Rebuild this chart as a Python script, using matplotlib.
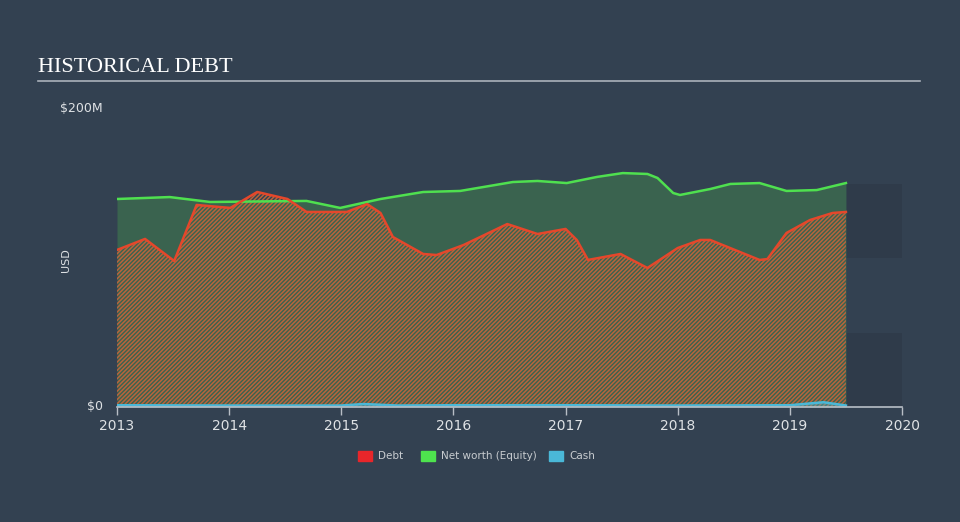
import numpy as np
import matplotlib.pyplot as plt

# values in $M, x in fractional years
debt_x = [2013.00, 2013.25, 2013.51, 2013.71, 2014.01, 2014.25, 2014.52, 2014.69, 2015.05,
          2015.23, 2015.35, 2015.46, 2015.73, 2015.85, 2016.09, 2016.48, 2016.75, 2017.00,
          2017.10, 2017.20, 2017.49, 2017.73, 2018.00, 2018.20, 2018.29, 2018.73, 2018.80,
          2018.97, 2019.18, 2019.38, 2019.50]
debt_y = [105.4, 112.8, 98.0, 135.6, 133.6, 144.3, 139.6, 130.9, 130.9,
          136.2, 130.2, 114.1, 102.7, 102.0, 108.7, 122.8, 116.1, 119.5,
          112.1, 98.7, 102.7, 93.3, 106.7, 112.1, 112.1, 98.7, 99.3,
          116.8, 125.5, 130.2, 130.9]

equity_x = [2013.00, 2013.47, 2013.83, 2014.69, 2014.99, 2015.35, 2015.73, 2016.06, 2016.53,
            2016.75, 2017.01, 2017.28, 2017.51, 2017.73, 2017.82, 2017.96, 2018.02, 2018.29,
            2018.47, 2018.73, 2018.97, 2019.24, 2019.50]
equity_y = [139.6, 140.9, 137.6, 138.3, 133.6, 139.6, 144.3, 145.0, 151.0,
            151.7, 150.3, 154.4, 157.0, 156.4, 153.7, 143.6, 142.3, 146.3,
            149.7, 150.3, 145.0, 145.6, 150.3]

cash_x = [2013.0, 2014.0, 2015.0, 2015.2, 2015.5, 2016.0, 2017.0, 2018.0, 2019.0, 2019.3, 2019.5]
cash_y = [1.2, 1.0, 1.0, 2.0, 1.0, 1.2, 1.2, 1.0, 1.2, 3.2, 1.0]

years = [2013, 2014, 2015, 2016, 2017, 2018, 2019, 2020]

bg = '#334151'
plt.rcParams['hatch.linewidth'] = 1.1

fig = plt.figure(figsize=(9.6, 5.22), dpi=100, facecolor=bg)
ax = fig.add_axes([117/960, 1-407/522, (902-117)/960, (407-109)/522])
ax.set_facecolor(bg)

# forecast region bands
ax.fill_between([2019.5, 2020], 0, 50, color='#2f3b4a', lw=0)
ax.fill_between([2019.5, 2020], 100, 150, color='#2f3b4a', lw=0)

ax.fill_between(equity_x, 0, equity_y, color='#3a634f', lw=0)
ax.fill_between(debt_x, 0, debt_y, facecolor='none', edgecolor='#b8643c',
                hatch='////////', lw=0)
ax.plot(equity_x, equity_y, color='#4fe04f', lw=1.8)
ax.plot(debt_x, debt_y, color='#e5472b', lw=1.8)
ax.fill_between(cash_x, 0, cash_y, color='#4ab8d8', alpha=0.4, lw=0)
ax.plot(cash_x, cash_y, color='#4ab8d8', lw=1.8)

ax.set_xlim(2013, 2020)
ax.set_ylim(0, 200)
ax.set_xticks(years)
ax.set_xticklabels([str(y) for y in years], color='#dfe2e5', fontsize=10)
ax.set_yticks([])
for s in ['top', 'right', 'left']:
    ax.spines[s].set_visible(False)
ax.spines['bottom'].set_color('#b8bec6')
ax.spines['bottom'].set_linewidth(1.2)
ax.tick_params(axis='x', colors='#b8bec6', length=6, width=1, pad=3, labelcolor='#dfe2e5')

fig.text(103/960, 1-109/522, '$200M', color='#dfe2e5', fontsize=9, ha='right', va='center')
fig.text(103/960, 1-407/522, '$0', color='#dfe2e5', fontsize=9, ha='right', va='center')
fig.text(66/960, 1-260/522, 'USD', color='#dfe2e5', fontsize=8, rotation=90, ha='center', va='center')

fig.text(38/960, 1-67/522, 'HISTORICAL DEBT', color='#ffffff', fontsize=16,
         family='Liberation Serif', va='center', ha='left')
fig.add_artist(plt.Line2D([38/960, 920/960], [1-81/522, 1-81/522], color='#aab1ba', lw=1.2))

# legend
items = [('Debt', '#e8262a', 358), ('Net worth (Equity)', '#4ee34e', 421), ('Cash', '#4ab8d8', 549)]
for label, col, px in items:
    fig.patches.append(plt.Rectangle((px/960, 1-461/522), 14/960, 10/522, color=col,
                                     transform=fig.transFigure, figure=fig))
    fig.text((px+20)/960, 1-456/522, label, color='#c8ccd0', fontsize=7.5, va='center', ha='left')

fig.savefig('out.png', dpi=100, facecolor=bg)
